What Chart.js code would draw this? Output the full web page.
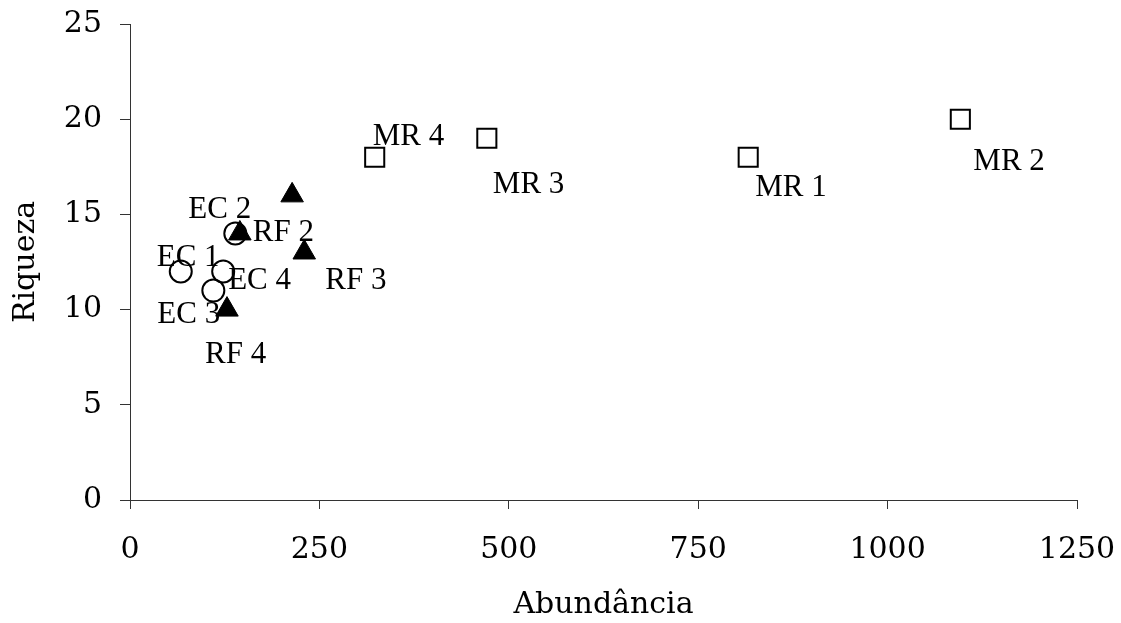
<!DOCTYPE html>
<html>
<head>
<meta charset="utf-8">
<script src="https://cdn.jsdelivr.net/npm/chart.js@4/dist/chart.umd.min.js"></script>
<style>
  html, body { margin: 0; padding: 0; background: #fff; }
  #wrap { width: 1121px; height: 623px; }
</style>
</head>
<body>
<div id="wrap"><canvas id="chart" width="1121" height="623"></canvas></div>
<script>
// data
var mrNames = ['MR 1', 'MR 2', 'MR 3', 'MR 4'];
var mrAbund = [816, 1096, 471, 323];
var mrRiq   = [18, 20, 19, 18];

var rfNames = ['', 'RF 2', 'RF 3', 'RF 4'];   // RF 1 has no label in the picture
var rfAbund = [214, 145, 230, 128];
var rfRiq   = [16, 14, 13, 10];

var ecNames = ['EC 1', 'EC 2', 'EC 3', 'EC 4'];
var ecAbund = [67, 139, 110, 123];
var ecRiq   = [12, 14, 11, 12];

var xTicks = [0, 250, 500, 750, 1000, 1250];
var yTicks = [0, 5, 10, 15, 20, 25];

// where each label sits relative to its marker (px, left edge / baseline)
var mrOffsets = [[7, 39], [13, 51], [6, 55], [-2, -12]];
var rfOffsets = [[0, 0], [13, 8], [21, 37], [-22, 53]];
var ecOffsets = [[-24, -6], [-47, -15], [-56, 32], [5, 17]];

function pts(xs, ys){
    return xs.map(function(v, i){ return {x: v, y: ys[i]}; });
}

var tickFont = {family: '"DejaVu Serif", serif', size: 30};

var pointLabels = {
    id: 'pointLabels',
    afterDatasetsDraw: function(chart){
        var ctx = chart.ctx;
        ctx.save();
        ctx.font = '31px "Liberation Serif", "Times New Roman", serif';
        ctx.fillStyle = '#000';
        ctx.textAlign = 'left';
        ctx.textBaseline = 'alphabetic';
        chart.data.datasets.forEach(function(ds, di){
            var meta = chart.getDatasetMeta(di);
            meta.data.forEach(function(el, i){
                var name = ds.names[i];
                if(!name) return;
                var off = ds.offsets[i];
                ctx.fillText(name, el.x + off[0], el.y + off[1]);
            });
        });
        ctx.restore();
    }
};

function noPad(s){
    s.paddingLeft = 0; s.paddingRight = 0;
    s.paddingTop = 0; s.paddingBottom = 0;
}

new Chart(document.getElementById('chart'), {
    type: 'scatter',
    data: {
        datasets: [{
            label: 'MR',
            names: mrNames,
            offsets: mrOffsets,
            data: pts(mrAbund, mrRiq),
            pointStyle: 'rect',
            pointRadius: 13.5,
            borderWidth: 2,
            borderColor: '#000',
            backgroundColor: '#fff',
            order: 2
        }, {
            label: 'RF',
            names: rfNames,
            offsets: rfOffsets,
            data: pts(rfAbund, rfRiq),
            pointStyle: 'triangle',
            pointRadius: 13,
            borderWidth: 1,
            borderColor: '#000',
            backgroundColor: '#000',
            order: 0
        }, {
            label: 'EC',
            names: ecNames,
            offsets: ecOffsets,
            data: pts(ecAbund, ecRiq),
            pointStyle: 'circle',
            pointRadius: 11,
            borderWidth: 2,
            borderColor: '#000',
            backgroundColor: 'rgba(0,0,0,0)',
            order: 1
        }]
    },
    options: {
        responsive: false,
        animation: false,
        layout: { padding: {top: 24, right: 44, left: 0, bottom: 0} },
        plugins: {
            legend: { display: false },
            tooltip: { enabled: false }
        },
        scales: {
            x: {
                type: 'linear',
                min: 0, max: 1250,
                afterBuildTicks: function(s){ s.ticks = xTicks.map(function(v){ return {value: v}; }); },
                afterFit: function(s){ s.height = 123; noPad(s); },
                border: { display: true, color: '#333', width: 1 },
                grid: { drawOnChartArea: false, drawTicks: true, tickLength: 9, color: '#333' },
                ticks: { color: '#000', font: tickFont, padding: 23, maxRotation: 0,
                         callback: function(v){ return String(v); } },
                title: { display: true, text: 'Abundância', color: '#000', font: tickFont, padding: {top: 0, bottom: 0} }
            },
            y: {
                type: 'linear',
                min: 0, max: 25,
                afterBuildTicks: function(s){ s.ticks = yTicks.map(function(v){ return {value: v}; }); },
                afterFit: function(s){ s.width = 130; noPad(s); },
                border: { display: true, color: '#333', width: 1 },
                grid: { drawOnChartArea: false, drawTicks: true, tickLength: 10, color: '#333' },
                ticks: { color: '#000', font: tickFont, padding: 18,
                         callback: function(v){ return String(v); } },
                title: { display: true, text: 'Riqueza', color: '#000', font: tickFont, padding: {top: 8, bottom: 0} }
            }
        }
    },
    plugins: [pointLabels]
});
</script>
</body>
</html>
